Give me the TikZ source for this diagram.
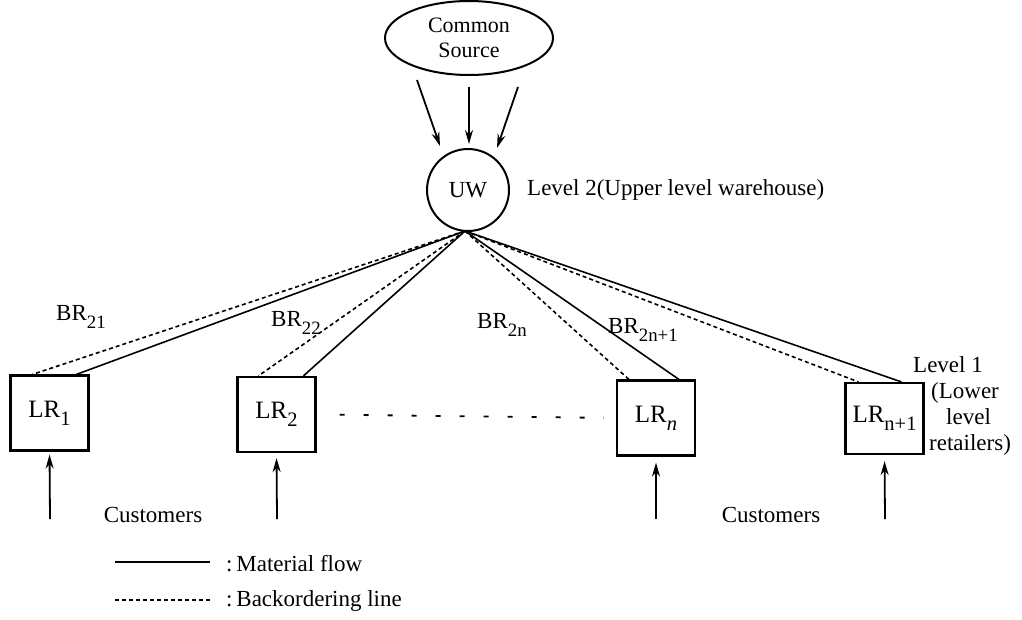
\documentclass[tikz,border=0pt]{standalone}
\usepackage{fontspec}
\setmainfont{Liberation Serif}
\usetikzlibrary{shapes.geometric,arrows.meta}
\newcommand\lsub[1]{\raisebox{-0.32em}{\scalebox{0.82}{#1}}}
\begin{document}
\begin{tikzpicture}[x=1pt,y=-1pt,
  txt/.style={font=\fontsize{23}{26}\selectfont, inner sep=0pt},
  box/.style={draw, line width=2.2pt, minimum width=78pt, minimum height=75pt, inner sep=0pt, font=\fontsize{25}{28}\selectfont},
  flow/.style={line width=1.6pt},
  back/.style={line width=1.6pt, dash pattern=on 4pt off 3pt},
  arr/.style={line width=1.8pt, -{Stealth[length=14pt,width=8pt]}}]
\useasboundingbox (0,0) rectangle (1022,619);
% source and warehouse
\node[draw, ellipse, line width=2pt, minimum width=168pt, minimum height=74pt, align=center,
  font=\fontsize{22}{25}\selectfont, inner sep=0pt] (src) at (469,38) {Common\\Source};
\node[draw, circle, line width=2pt, minimum size=82pt, inner sep=0pt, font=\fontsize{23}{25}\selectfont] (uw) at (468,190) {UW};
\node[txt, anchor=west] (lv2) at (527,190) {Level 2(Upper level warehouse)};
% source arrows
\coordinate (s1) at (417,80);  \coordinate (e1) at (440,146);
\coordinate (s2) at (469,87);  \coordinate (e2) at (469,144);
\coordinate (s3) at (518,87);  \coordinate (e3) at (497,148);
\draw[arr] (s1) -- (e1);
\draw[arr] (s2) -- (e2);
\draw[arr] (s3) -- (e3);
% retailers
\node[box] (lr1) at (49.5,413) {LR\lsub{1}};
\node[box] (lr2) at (276.5,414.5) {LR\lsub{2}};
\node[box] (lrn) at (656,418) {LR\lsub{\itshape n}};
\node[box, minimum height=71pt] (lrn1) at (884.5,418.5) {LR\lsub{n+1}};
% connectors
\coordinate (uwb) at (465,231);
\draw[back] (uwb) -- ([xshift=23pt]lr1.north west);
\draw[flow] (uwb) -- ([xshift=67pt]lr1.north west);
\draw[back] (uwb) -- ([xshift=22pt]lr2.north west);
\draw[flow] (uwb) -- ([xshift=67pt]lr2.north west);
\draw[back] (uwb) -- ([xshift=13pt]lrn.north west);
\draw[flow] (uwb) -- ([xshift=63pt]lrn.north west);
\draw[back] (uwb) -- ([xshift=14pt]lrn1.north west);
\draw[flow] (uwb) -- ([xshift=57pt]lrn1.north west);
% dotted middle
\draw[line width=1.8pt, dash pattern=on 5pt off 19pt, shorten <=23pt, shorten >=12pt] (lr2.east) -- (lrn.west);
% BR labels
\node[txt] (br21) at (81,317) {BR\lsub{21}};
\node[txt] (br22) at (296,323) {BR\lsub{22}};
\node[txt] (br2n) at (502,325) {BR\lsub{2n}};
\node[txt] (br2n1) at (643,330) {BR\lsub{2n+1}};
% level 1
\node[txt, anchor=north west, align=left] (lv1) at (913,356) {Level 1\\\hspace{18pt}(Lower\\\hspace{33pt}level\\\hspace{16pt}retailers)};
% customers
\coordinate (c1) at (50,519);
\coordinate (c2) at (277,519);
\coordinate (c3) at (656,519);
\coordinate (c4) at (885,519);
\draw[arr, shorten >=3pt] (c1) -- (lr1.south);
\draw[arr, shorten >=5pt] (c2) -- (lr2.south);
\draw[arr, shorten >=6pt] (c3) -- (lrn.south);
\draw[arr, shorten >=6pt] (c4) -- (lrn1.south);
\node[txt] (cu1) at (153,515) {Customers};
\node[txt] (cu2) at (771,515) {Customers};
% legend
\coordinate (l1a) at (115,562); \coordinate (l1b) at (210,562);
\coordinate (l2a) at (115,600); \coordinate (l2b) at (210,600);
\draw[flow] (l1a) -- (l1b);
\draw[back] (l2a) -- (l2b);
\node[txt, anchor=west] (lg1) at (226,564) {:\,Material flow};
\node[txt, anchor=west] (lg2) at (226,601) {:\,Backordering line};
\end{tikzpicture}
\end{document}
